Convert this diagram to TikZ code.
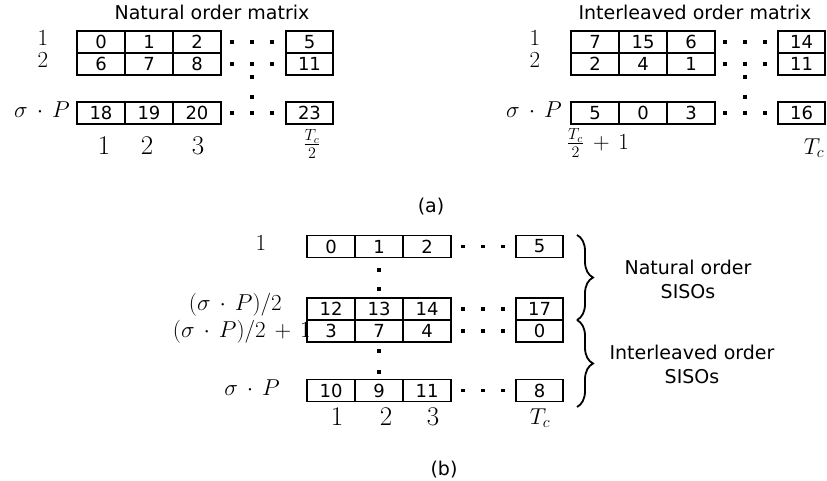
\RequirePackage{fix-cm}
\documentclass[tikz,border=0pt]{standalone}
\usepackage{amsmath}
\usepackage{fontspec}
\newfontfamily\labelfont{DejaVu Sans}
\usetikzlibrary{positioning,decorations.pathreplacing}

\begin{document}
\begin{tikzpicture}[x=1pt, y=-1pt,
    cell/.style={rectangle, draw=black, line width=1.8pt, minimum width=48pt, minimum height=22pt, inner sep=0pt, font=\labelfont\fontsize{18}{18}\selectfont},
    lastCell/.style={cell, minimum width=47pt},
    idxLabel/.style={inner sep=0pt, font={\fontsize{23}{26}\selectfont\medmuskip=7mu}},
    colLabel/.style={inner sep=0pt, font=\fontsize{27}{30}\selectfont},
    capText/.style={inner sep=0pt, align=center, font=\labelfont\fontsize{19}{24}\selectfont},
    braceStyle/.style={decorate, decoration={brace, amplitude=16pt}, line width=1.8pt}
]
    \useasboundingbox (0,0) rectangle (827,481);

    % Matrice naturale
    \node[capText] (natTitle) at (212,12) {Natural order matrix};
    \foreach \y/\a/\b/\c/\d/\r in {42/0/1/2/5/1, 64/6/7/8/11/2, 113/18/19/20/23/3} {
        \node[cell] (nat-\r-1) at (101,\y) {\a};
        \node[cell] (nat-\r-2) at (149,\y) {\b};
        \node[cell] (nat-\r-3) at (197,\y) {\c};
        \node[lastCell] (nat-\r-4) at (309.5,\y) {\d};
        \foreach \x in {232,252,272}
            \fill (\x-1.8,\y-1.8) rectangle ++(3.6,3.6);
    }
    \foreach \y in {77,97}
        \fill (252-1.8,\y-1.8) rectangle ++(3.6,3.6);
    \node[idxLabel] (natRowA) at (43,38) {$1$};
    \node[idxLabel] (natRowB) at (43,60) {$2$};
    \node[idxLabel] (natRowP) at (42,110) {$\sigma\cdot P$};
    \node[colLabel] (natColA) at (104,146) {$1$};
    \node[colLabel] (natColB) at (147,146) {$2$};
    \node[colLabel] (natColC) at (198,146) {$3$};
    \node[idxLabel] (natColT) at (312,144) {$\frac{T_c}{2}$};

    % Matrice interleaved
    \node[capText] (intTitle) at (695,12) {Interleaved order matrix};
    \foreach \y/\a/\b/\c/\d/\r in {42/7/15/6/14/1, 64/2/4/1/11/2, 113/5/0/3/16/3} {
        \node[cell] (int-\r-1) at (595,\y) {\a};
        \node[cell] (int-\r-2) at (643,\y) {\b};
        \node[cell] (int-\r-3) at (691,\y) {\c};
        \node[lastCell] (int-\r-4) at (801.5,\y) {\d};
        \foreach \x in {725,745,765}
            \fill (\x-1.8,\y-1.8) rectangle ++(3.6,3.6);
    }
    \foreach \y in {77,97}
        \fill (745-1.8,\y-1.8) rectangle ++(3.6,3.6);
    \node[idxLabel] (intRowA) at (535,38) {$1$};
    \node[idxLabel] (intRowB) at (535,60) {$2$};
    \node[idxLabel] (intRowP) at (534,110) {$\sigma\cdot P$};
    \node[idxLabel] (intColA) at (598,143) {$\frac{T_c}{2}+1$};
    \node[idxLabel] (intColT) at (814,148) {$T_c$};

    \node[capText] (capA) at (431,207) {(a)};

    % SISO
    \foreach \y/\a/\b/\c/\d/\r in {246.5/0/1/2/5/1, 309/12/13/14/17/2, 331/3/7/4/0/3, 390.5/10/9/11/8/4} {
        \node[cell] (sis-\r-1) at (331,\y) {\a};
        \node[cell] (sis-\r-2) at (379,\y) {\b};
        \node[cell] (sis-\r-3) at (427,\y) {\c};
        \node[lastCell] (sis-\r-4) at (539.5,\y) {\d};
        \foreach \x in {463,483,503}
            \fill (\x-1.8,\y-1.8) rectangle ++(3.6,3.6);
    }
    \foreach \y in {270,289,351,372}
        \fill (379-1.8,\y-1.8) rectangle ++(3.6,3.6);
    \node[idxLabel] (sisRowA) at (261,243) {$1$};
    \node[idxLabel, anchor=east] (sisRowB) at (282,305) {$(\sigma\cdot P)/2$};
    \node[idxLabel, anchor=east] (sisRowC) at (311,332) {$(\sigma\cdot P)/2+1$};
    \node[idxLabel, anchor=east] (sisRowP) at (280,388) {$\sigma\cdot P$};
    \node[colLabel] (sisColA) at (337,417) {$1$};
    \node[colLabel] (sisColB) at (386,417) {$2$};
    \node[colLabel] (sisColC) at (433,417) {$3$};
    \node[idxLabel] (sisColT) at (540,418) {$T_c$};

    \coordinate (natTop) at (577,235);
    \coordinate (split) at (577,320);
    \coordinate (intBot) at (577,407);
    \draw[braceStyle] (natTop) -- (split);
    \draw[braceStyle] (split) -- (intBot);
    \node[capText] (natSiso) at (688,279) {Natural order\\SISOs};
    \node[capText] (intSiso) at (692,364) {Interleaved order\\SISOs};

    \node[capText] (capB) at (444,470) {(b)};
\end{tikzpicture}
\end{document}
